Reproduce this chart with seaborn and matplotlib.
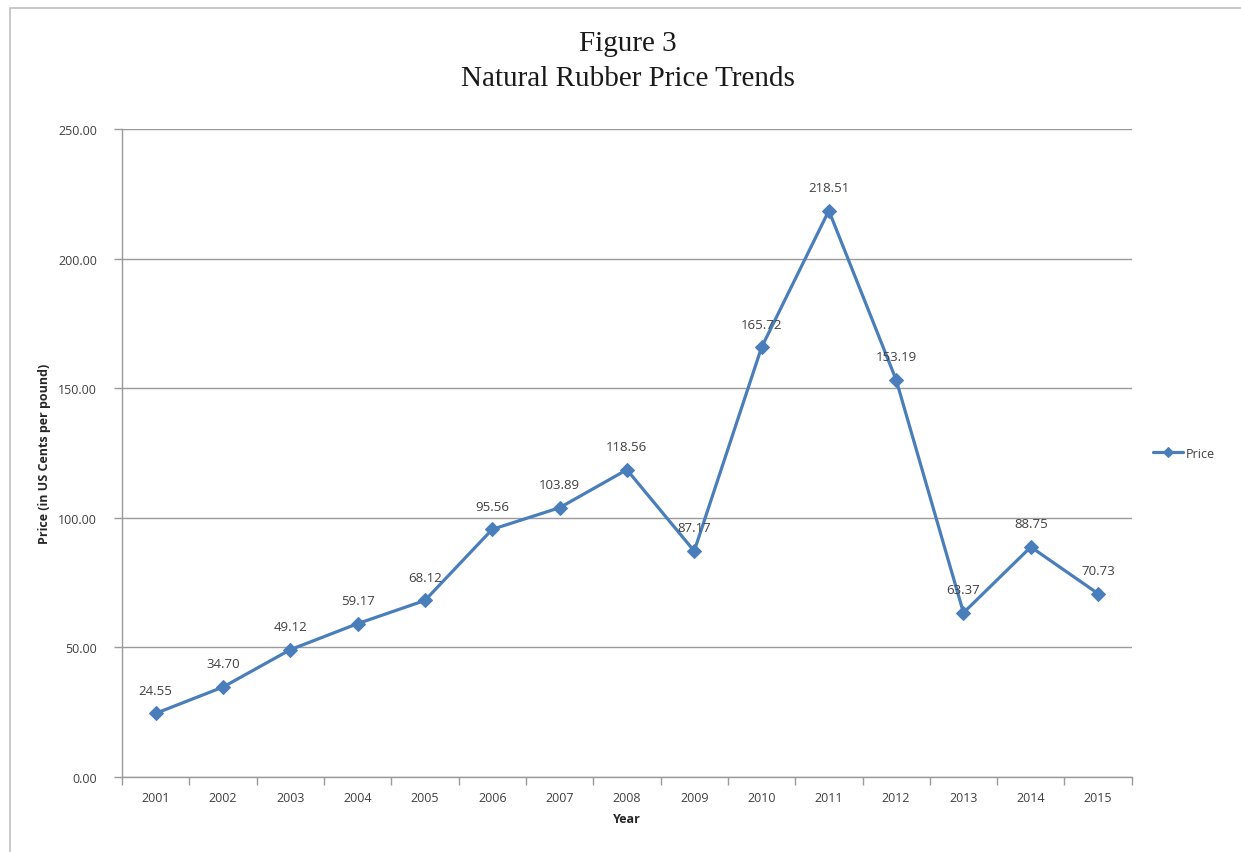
import pandas as pd
import matplotlib.pyplot as plt
import matplotlib.patches as patches
import seaborn as sns

# dados
anos = [2001, 2002, 2003, 2004, 2005, 2006, 2007, 2008, 2009, 2010, 2011, 2012, 2013, 2014, 2015]
precos = [24.55, 34.70, 49.12, 59.17, 68.12, 95.56, 103.89, 118.56, 87.17, 165.72, 218.51, 153.19, 63.37, 88.75, 70.73]
y_ticks = [0, 50, 100, 150, 200, 250]

azul = '#4A7EBB'
cinza = '#9A9A9A'

df = pd.DataFrame({'Year': anos, 'Price': precos})

sns.set_style('white')
plt.rcParams['font.family'] = ['Open Sans', 'DejaVu Sans']

fig = plt.figure(figsize=(12.41, 8.53), dpi=100)
ax = fig.add_axes([0.0983, 0.0879, 0.8137, 0.7597])

# moldura do grafico
fig.patches.append(patches.Rectangle((10 / 1241, -0.1), 1.2, 1.1 - 9 / 853, transform=fig.transFigure,
                                     fill=False, edgecolor='#BFBFBF', linewidth=1.2))

sns.lineplot(data=df, x='Year', y='Price', marker='D', markersize=7, color=azul,
             linewidth=2.3, markeredgecolor=azul, label='Price', ax=ax)

for ano, p in zip(anos, precos):
    ax.annotate(f'{p:.2f}', (ano, p), xytext=(0, 12), textcoords='offset points',
                ha='center', va='bottom', fontsize=9.5, color='#404040')

ax.set_xlim(2000.5, 2015.5)
ax.set_ylim(0, 250)
ax.set_yticks(y_ticks)
ax.set_yticklabels([f'{v:.2f}' for v in y_ticks], fontsize=9, color='#404040')
ax.set_xticks(anos)
ax.set_xticklabels([str(a) for a in anos], fontsize=9, color='#404040')
ax.set_xticks([a + 0.5 for a in [2000] + anos], minor=True)
ax.tick_params(axis='x', which='major', bottom=True, length=0, pad=10)
ax.tick_params(axis='x', which='minor', bottom=True, length=6, width=1, color=cinza, direction='out')
ax.tick_params(axis='y', left=True, length=6, width=1, color=cinza, direction='out', pad=12)
ax.grid(axis='y', color=cinza, linewidth=1)
ax.set_axisbelow(True)

for lado in ['top', 'right']:
    ax.spines[lado].set_visible(False)
for lado in ['left', 'bottom']:
    ax.spines[lado].set_color(cinza)
    ax.spines[lado].set_linewidth(1)

ax.set_xlabel('Year', fontsize=9, fontweight='bold', color='#262626', labelpad=6)
ax.set_ylabel('Price (in US Cents per pound)', fontsize=9, fontweight='bold', color='#262626', labelpad=5)

ax.legend(loc='center left', bbox_to_anchor=(1.01, 0.5), frameon=False, fontsize=9,
          handlelength=2.4, handletextpad=0.2, labelcolor='#404040', markerscale=0.8)

fig.text(0.506, 0.948, 'Figure 3', ha='center', va='center', fontsize=21,
         family='Liberation Serif', color='#1a1a1a')
fig.text(0.506, 0.907, 'Natural Rubber Price Trends', ha='center', va='center', fontsize=21,
         family='Liberation Serif', color='#1a1a1a')

plt.savefig('out.png', dpi=100, facecolor='white')
plt.close()
